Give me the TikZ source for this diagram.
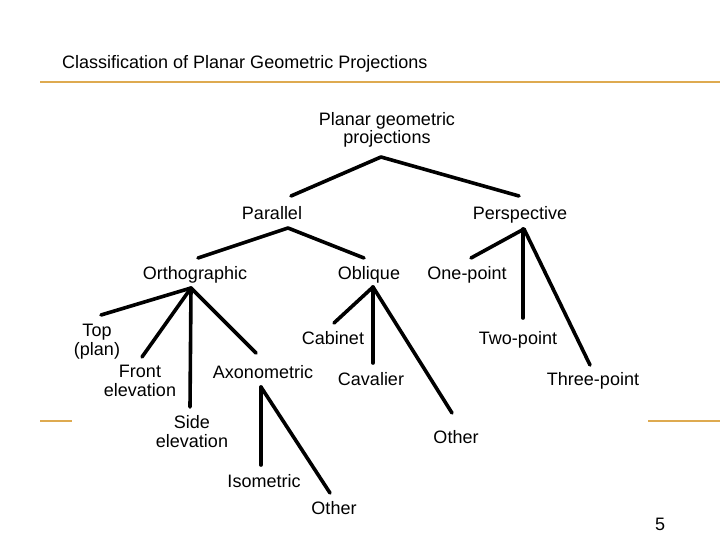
\documentclass[tikz,border=0pt]{standalone}
\usepackage{fontspec}
\setmainfont{Liberation Sans}
\usepackage{tikz}
\definecolor{rulegold}{RGB}{222,170,80}

\begin{document}
\begin{tikzpicture}[
    x=1pt, y=-1pt,
    every node/.style={font=\fontsize{18}{18.5}\selectfont, inner sep=0pt,
      anchor=base, align=center},
    title/.style={anchor=base west},
    branch/.style={line width=3.6pt, line cap=round, black},
    goldrule/.style={draw=rulegold, line width=2pt}
  ]
    \useasboundingbox (0,0) rectangle (720,540);

    % heading and slide rules
    \node[title] (heading) at (62,69) {Classification of Planar Geometric Projections};
    \draw[goldrule] (40,82) -- (720,82);
    \draw[goldrule] (40,421) -- (72,421);
    \draw[goldrule] (648,421) -- (720,421);
    \node (pagenum) at (660,530) {5};

    % tree labels (base = last line)
    \node (planar) at (387,144) {Planar geometric\\projections};
    \node (parallel) at (272,219) {Parallel};
    \node (perspective) at (520,219) {Perspective};
    \node (ortho) at (195,279) {Orthographic};
    \node (oblique) at (369,279) {Oblique};
    \node (onepoint) at (467,279) {One-point};
    \node (twopoint) at (518,344) {Two-point};
    \node (threepoint) at (593,385) {Three-point};
    \node (top) at (97,355) {Top\\(plan)};
    \node (front) at (140,396) {Front\\elevation};
    \node (side) at (192,447) {Side\\elevation};
    \node (axono) at (263,378) {Axonometric};
    \node (cabinet) at (333,344) {Cabinet};
    \node (cavalier) at (371,385) {Cavalier};
    \node (obliqueother) at (456,443) {Other};
    \node (isometric) at (264,487) {Isometric};
    \node (axonoother) at (334,514) {Other};

    % branches
    \draw[branch] ([shift={(-6,13)}]planar.base) -- ([shift={(19,-23)}]parallel.base);
    \draw[branch] ([shift={(-6,13)}]planar.base) -- ([shift={(-1,-23)}]perspective.base);
    \draw[branch] ([shift={(16,9)}]parallel.base) -- ([shift={(3,-21)}]ortho.base);
    \draw[branch] ([shift={(16,9)}]parallel.base) -- ([shift={(-5,-21)}]oblique.base);
    \draw[branch] ([shift={(4,10)}]perspective.base) -- ([shift={(4,-21)}]onepoint.base);
    \draw[branch] ([shift={(3,10)}]perspective.base) -- ([shift={(5,-26)}]twopoint.base);
    \draw[branch] ([shift={(4,10)}]perspective.base) -- ([shift={(-3,-20)}]threepoint.base);
    \draw[branch] ([shift={(-4,9)}]ortho.base) -- ([shift={(4,-40)}]top.base);
    \draw[branch] ([shift={(-4,9)}]ortho.base) -- ([shift={(2,-39)}]front.base);
    \draw[branch] ([shift={(-4,9)}]ortho.base) -- ([shift={(-2,-40)}]side.base);
    \draw[branch] ([shift={(-4,9)}]ortho.base) -- ([shift={(-7,-25)}]axono.base);
    \draw[branch] ([shift={(4,8)}]oblique.base) -- ([shift={(1,-21)}]cabinet.base);
    \draw[branch] ([shift={(4,8)}]oblique.base) -- ([shift={(2,-22)}]cavalier.base);
    \draw[branch] ([shift={(4,8)}]oblique.base) -- ([shift={(-4,-30)}]obliqueother.base);
    \draw[branch] ([shift={(-2,9)}]axono.base) -- ([shift={(-3,-22)}]isometric.base);
    \draw[branch] ([shift={(-2,9)}]axono.base) -- ([shift={(-4,-21)}]axonoother.base);
  \end{tikzpicture}
\end{document}
